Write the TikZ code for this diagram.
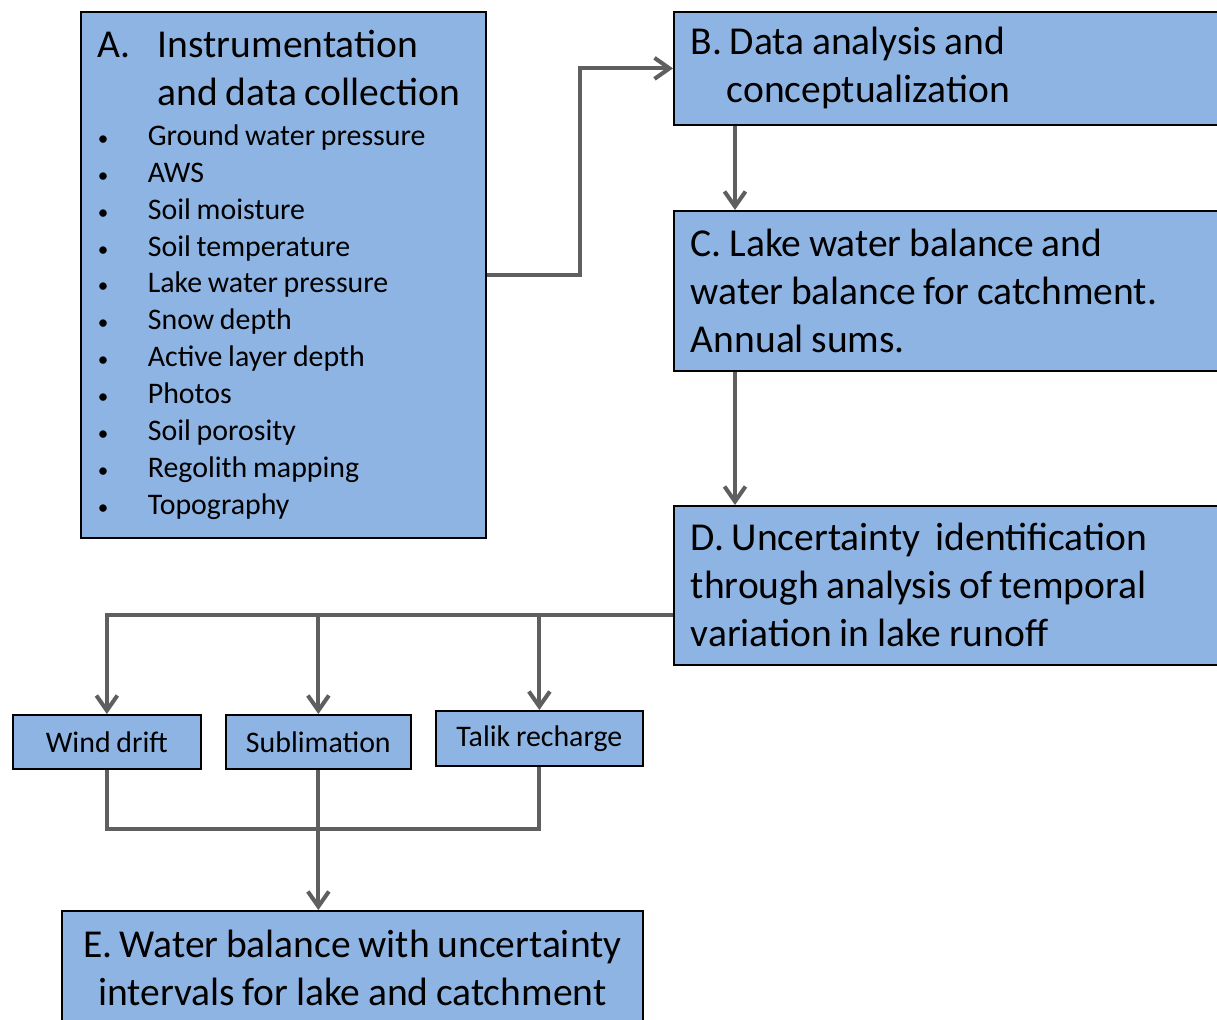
\documentclass[tikz,border=0pt]{standalone}
\usepackage{fontspec}
\setmainfont{Carlito}[WordSpace=0.85]
\usetikzlibrary{arrows.meta, positioning}

\definecolor{boxblue}{HTML}{8EB4E3}
\definecolor{linegray}{HTML}{5F5F5F}

\newcommand{\bigtxt}{\fontsize{22.5}{27.3}\selectfont}
\newcommand{\smalltxt}{\fontsize{17}{21}\selectfont}
\newcommand{\bulletline}[1]{\makebox[1cm][l]{{\fontsize{12}{12}\selectfont•}}#1}

\begin{document}
\begin{tikzpicture}[
  x=0.02cm, y=-0.02cm,
  box/.style={draw=black, line width=1pt, fill=boxblue, rectangle, anchor=north west,
    inner xsep=0.34cm, inner ysep=0pt, align=flush left},
  small/.style={box, align=center, inner xsep=0pt, font=\smalltxt},
  conn/.style={draw=linegray, line width=2.3pt},
  arr/.style={conn, -{Straight Barb[length=0.3cm, width=0.42cm]}},
]
  \useasboundingbox (0,0) rectangle (1217,1019);
  \clip (0,0) rectangle (1217,1019);

  \node[box, text width=7.42cm, minimum height=10.52cm] (a) at (80,11) {%
    {\bigtxt \makebox[1.2cm][l]{A.}Instrumentation\\
     \hspace*{1.2cm}and data collection\par}
    \vspace{0.06cm}
    {\smalltxt
     \bulletline{Ground water pressure}\\
     \bulletline{AWS}\\
     \bulletline{Soil moisture}\\
     \bulletline{Soil temperature}\\
     \bulletline{Lake water pressure}\\
     \bulletline{Snow depth}\\
     \bulletline{Active layer depth}\\
     \bulletline{Photos}\\
     \bulletline{Soil porosity}\\
     \bulletline{Regolith mapping}\\
     \bulletline{Topography}\par}};

  \node[box, text width=10.46cm, minimum height=2.26cm, font=\bigtxt] (b) at (673,11)
    {B. Data analysis and\\ \hspace*{0.72cm}conceptualization};
  \node[box, text width=10.46cm, minimum height=3.2cm, font=\bigtxt] (c) at (673,210)
    {C. Lake water balance and\\ water balance for catchment.\\ Annual sums.};
  \node[box, text width=10.46cm, minimum height=3.18cm, font=\bigtxt] (d) at (673,505)
    {D. Uncertainty~ identification\\ through analysis of temporal\\ variation in lake runoff};

  \node[small, minimum width=3.76cm, minimum height=1.08cm] (wind) at (12,714) {Wind drift};
  \node[small, minimum width=3.7cm, minimum height=1.08cm] (subl) at (225,714) {Sublimation};
  \node[small, minimum width=4.14cm, minimum height=1.1cm] (talik) at (435,710) {Talik recharge};

  \node[box, align=center, inner xsep=0pt, minimum width=11.62cm, minimum height=2.28cm, font=\bigtxt] (e) at (61,910)
    {E. Water balance with uncertainty\\ intervals for lake and catchment};

  % A to B
  \draw[arr] (a.east) -- ++(93,0) |- (b.west);
  % down the right column
  \coordinate (spine) at (735,0);
  \draw[arr] (spine |- b.south) -- (spine |- c.north);
  \draw[arr] (spine |- c.south) -- (spine |- d.north);

  % D splits into the three terms
  \path (d.west) ++(0,29.5) coordinate (fork);
  \draw[arr] (fork) -| (wind.north);
  \draw[arr] (fork -| subl.north) -- (subl.north);
  \draw[arr] (fork -| talik.north) -- (talik.north);

  % terms join into E
  \path (wind.south) ++(0,59) coordinate (join);
  \draw[conn] (wind.south) -- (join) -| (talik.south);
  \draw[arr] (subl.south) -- (subl.south |- e.north);
\end{tikzpicture}
\end{document}
